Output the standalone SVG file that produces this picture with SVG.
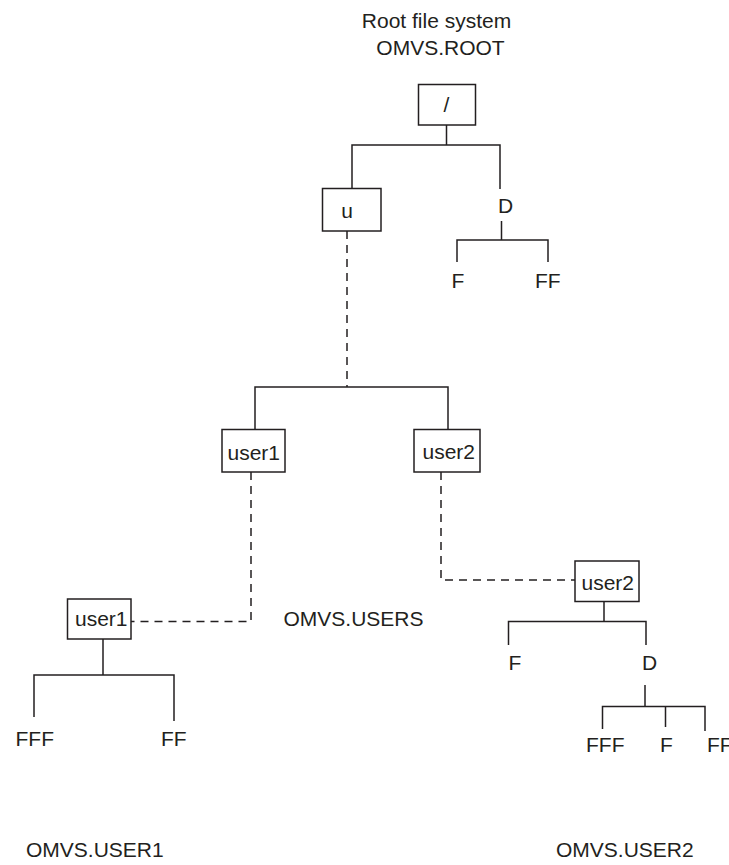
<svg xmlns="http://www.w3.org/2000/svg" width="729" height="865" viewBox="0 0 729 865">
<style>
text{font-family:"Liberation Sans",Arial,sans-serif;font-size:21px;fill:#231f20}
.box{fill:#fff;stroke:#231f20;stroke-width:1.5}
.ln{fill:none;stroke:#231f20;stroke-width:1.5}
.dash{fill:none;stroke:#231f20;stroke-width:1.5;stroke-dasharray:8 6}
</style>
<rect width="729" height="865" fill="#fff"/>
<g id="connectors">
<path class="ln" d="M446.5,125 V145 M352,189 V145 H500 V189"/>
<path class="ln" d="M501.5,221 V240 M457,262 V240 H548 V262"/>
<path class="dash" d="M347,231 V387"/>
<path class="ln" d="M255,429 V387 H448 V429"/>
<path class="dash" d="M251,472 V621.5 H131"/>
<path class="dash" d="M441,472 V580 H575"/>
<path class="ln" d="M103,639 V675 M34,717 V675 H174 V721"/>
<path class="ln" d="M604,602 V621.5 M508.5,645 V621.5 H646 V645"/>
<path class="ln" d="M645,685 V706.5 M602.5,729 V706.5 H705 V731 M665.5,706.5 V727"/>
</g>
<g id="title"><text x="436.5" y="28" text-anchor="middle">Root file system</text><text x="440.5" y="55" text-anchor="middle">OMVS.ROOT</text></g>
<g id="root"><rect class="box" x="418.5" y="84.5" width="57" height="40.5"/><text x="446.5" y="112" text-anchor="middle">/</text></g>
<g id="u"><rect class="box" x="322.5" y="188.5" width="58.5" height="42.5"/><text x="347" y="218" text-anchor="middle">u</text></g>
<g id="d1"><text x="498" y="213">D</text></g>
<g id="f1"><text x="451.5" y="288">F</text></g>
<g id="ff1"><text x="535" y="288">FF</text></g>
<g id="user1a"><rect class="box" x="222" y="429.5" width="63" height="42.5"/><text x="227.5" y="460">user1</text></g>
<g id="user2a"><rect class="box" x="414" y="429.5" width="66" height="42.5"/><text x="422.5" y="459">user2</text></g>
<g id="user1b"><rect class="box" x="67.5" y="599" width="63.5" height="40"/><text x="75" y="626">user1</text></g>
<g id="users-label"><text x="283.5" y="626">OMVS.USERS</text></g>
<g id="user2b"><rect class="box" x="575" y="561" width="64" height="40.5"/><text x="581.5" y="590">user2</text></g>
<g id="fff1"><text x="15.5" y="746">FFF</text></g>
<g id="ff2"><text x="161" y="746">FF</text></g>
<g id="f2"><text x="508.5" y="670">F</text></g>
<g id="d2"><text x="642" y="670">D</text></g>
<g id="fff2"><text x="586" y="752">FFF</text></g>
<g id="f3"><text x="660" y="752">F</text></g>
<g id="ff3"><text x="707" y="752">FF</text></g>
<g id="user1-label"><text x="26" y="857">OMVS.USER1</text></g>
<g id="user2-label"><text x="556" y="857">OMVS.USER2</text></g>
</svg>
